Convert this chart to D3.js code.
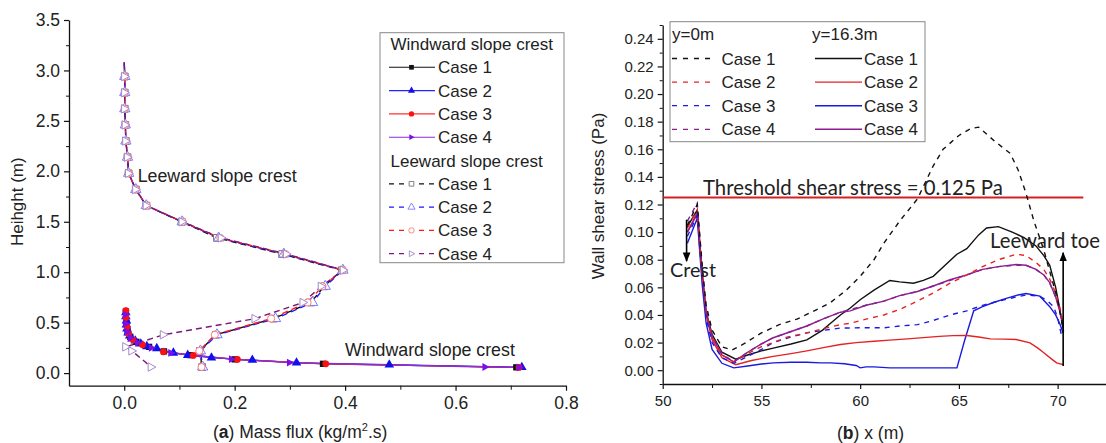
<!DOCTYPE html>
<html><head><meta charset="utf-8">
<script src="https://cdn.jsdelivr.net/npm/d3@7/dist/d3.min.js"></script>
<style>
body{margin:0;background:#fff}
svg{display:block}
text{font-family:"Liberation Sans",Arial,sans-serif;fill:#222}
</style>
</head><body>
<svg id="c" width="1106" height="443"></svg>
<script>
// ---------------- DATA : panel (a) ----------------
const leeHeights = [3.08,2.94,2.78,2.62,2.46,2.30,2.14,1.98,1.82,1.66,1.50,1.34,1.18,1.02,0.86,0.70,0.54,0.38,0.22,0.06];
const leeCase1 = [0.000,0.001,0.001,0.001,0.002,0.003,0.006,0.008,0.021,0.040,0.104,0.168,0.286,0.394,0.362,0.338,0.270,0.166,0.137,0.141];
const leeCase2 = [0.000,0.001,0.001,0.001,0.002,0.003,0.006,0.008,0.021,0.040,0.105,0.171,0.289,0.396,0.364,0.341,0.274,0.168,0.138,0.142];
const leeCase3 = [0.000,0.001,0.001,0.001,0.002,0.003,0.006,0.008,0.021,0.041,0.106,0.174,0.292,0.396,0.359,0.332,0.266,0.164,0.136,0.140];
const leeHeights4 = [3.08,2.94,2.78,2.62,2.46,2.30,2.14,1.98,1.82,1.66,1.50,1.34,1.18,1.02,0.86,0.70,0.54,0.38,0.26,0.22,0.06];
const leeCase4 = [0.000,0.001,0.001,0.001,0.002,0.003,0.006,0.008,0.021,0.040,0.105,0.176,0.294,0.397,0.357,0.324,0.237,0.071,0.003,0.014,0.049];

// windward slope crest : [mass flux, height]
const windCase1 = [[0.003,0.61],[0.004,0.50],[0.006,0.42],[0.011,0.36],[0.022,0.31],[0.045,0.26],[0.072,0.215],[0.120,0.178],[0.200,0.136],[0.360,0.092],[0.710,0.057]];
const windCase2 = [[0.003,0.60],[0.003,0.56],[0.004,0.52],[0.004,0.48],[0.005,0.44],[0.007,0.40],[0.010,0.37],[0.014,0.34],[0.020,0.32],[0.030,0.29],[0.041,0.265],[0.059,0.245],[0.089,0.20],[0.115,0.178],[0.158,0.152],[0.232,0.129],[0.312,0.102],[0.480,0.083],[0.720,0.057]];
const windCase3 = [[0.003,0.62],[0.003,0.55],[0.005,0.46],[0.008,0.39],[0.016,0.33],[0.033,0.28],[0.071,0.211],[0.125,0.175],[0.205,0.135],[0.365,0.092],[0.715,0.056]];
const windCase4 = [[0.003,0.58],[0.004,0.49],[0.006,0.41],[0.012,0.35],[0.025,0.30],[0.050,0.25],[0.085,0.20],[0.195,0.138],[0.300,0.104],[0.654,0.060],[0.716,0.056]];

const aYTicks = [0.0,0.5,1.0,1.5,2.0,2.5,3.0,3.5];
const aXTicks = [0.0,0.2,0.4,0.6,0.8];

// ---------------- DATA : panel (b) ----------------
const y0Case1 = [[51.25,0.105],[51.75,0.120],[52.0,0.076],[52.2,0.047],[52.5,0.029],[53.0,0.017],[53.5,0.0145],[54.1,0.019],[55.0,0.027],[55.9,0.033],[56.8,0.037],[57.6,0.0425],[58.5,0.049],[59.3,0.058],[60.0,0.068],[60.7,0.080],[61.2,0.092],[62.0,0.108],[62.9,0.124],[63.7,0.148],[64.2,0.160],[65.0,0.170],[65.6,0.175],[66.0,0.176],[66.8,0.166],[67.6,0.157],[68.0,0.145],[68.4,0.128],[68.8,0.108],[69.3,0.087],[70.0,0.051],[70.3,0.028]];
const y0Case2 = [[51.25,0.103],[51.75,0.116],[52.0,0.070],[52.2,0.042],[52.5,0.024],[53.0,0.011],[53.6,0.006],[54.3,0.012],[55.0,0.017],[55.6,0.020],[56.3,0.024],[57.3,0.027],[58.1,0.030],[59.0,0.033],[59.5,0.034],[60.3,0.037],[61.2,0.040],[62.0,0.044],[62.9,0.050],[63.7,0.056],[64.55,0.063],[65.4,0.069],[66.2,0.075],[67.0,0.080],[67.9,0.084],[68.4,0.083],[68.9,0.078],[69.3,0.073],[69.6,0.066],[69.9,0.056],[70.1,0.046],[70.28,0.034]];
const y0Case3 = [[51.25,0.097],[51.75,0.112],[52.0,0.066],[52.2,0.038],[52.5,0.020],[53.0,0.009],[53.6,0.005],[54.3,0.010],[55.0,0.015],[55.6,0.020],[56.5,0.024],[57.3,0.027],[58.2,0.029],[59.0,0.0305],[60.0,0.0307],[61.2,0.0307],[62.0,0.032],[62.9,0.033],[63.7,0.036],[64.55,0.040],[65.4,0.043],[66.2,0.047],[67.0,0.050],[67.9,0.053],[68.4,0.0545],[69.1,0.0535],[69.5,0.050],[69.8,0.046],[70.0,0.038],[70.2,0.025]];
const y0Case4 = [[51.25,0.108],[51.75,0.121],[52.0,0.073],[52.2,0.044],[52.5,0.025],[53.0,0.012],[53.6,0.006],[54.3,0.013],[55.0,0.019],[55.6,0.0235],[56.5,0.028],[57.3,0.032],[58.1,0.037],[59.0,0.042],[59.5,0.044],[60.3,0.047],[61.2,0.050],[62.0,0.054],[62.9,0.057],[63.7,0.061],[64.55,0.065],[65.4,0.069],[66.2,0.073],[67.0,0.075],[67.9,0.076],[68.4,0.076],[68.9,0.073],[69.3,0.069],[69.6,0.063],[69.9,0.053],[70.1,0.044],[70.28,0.032]];

const y16Case1 = [[51.25,0.104],[51.75,0.116],[52.0,0.070],[52.2,0.042],[52.5,0.026],[53.0,0.013],[53.7,0.008],[54.3,0.011],[55.0,0.014],[55.6,0.016],[56.5,0.019],[57.3,0.022],[58.1,0.029],[58.5,0.034],[59.0,0.040],[59.5,0.045],[60.0,0.051],[60.7,0.058],[61.5,0.065],[62.0,0.064],[62.7,0.063],[63.2,0.065],[63.7,0.068],[64.3,0.076],[64.9,0.084],[65.4,0.088],[66.0,0.098],[66.4,0.103],[67.0,0.104],[67.7,0.100],[68.3,0.096],[68.9,0.090],[69.3,0.083],[69.6,0.076],[69.9,0.060],[70.1,0.045],[70.28,0.030]];
const y16Case2 = [[51.25,0.100],[51.75,0.113],[52.0,0.068],[52.2,0.040],[52.5,0.022],[53.0,0.009],[53.7,0.004],[54.5,0.007],[55.6,0.010],[56.5,0.012],[57.3,0.014],[58.2,0.0165],[59.0,0.0186],[59.8,0.020],[60.7,0.021],[61.5,0.0218],[62.4,0.0227],[63.2,0.0236],[64.0,0.0245],[64.7,0.0250],[65.4,0.0251],[66.0,0.0240],[66.6,0.0227],[67.3,0.0225],[67.9,0.0222],[68.6,0.0198],[69.0,0.016],[69.3,0.0126],[69.7,0.008],[69.95,0.0053],[70.28,0.004]];
const y16Case3 = [[51.25,0.092],[51.75,0.110],[52.0,0.062],[52.2,0.034],[52.5,0.015],[53.0,0.005],[53.6,0.0017],[54.3,0.003],[55.0,0.0045],[55.6,0.0053],[56.5,0.0058],[57.3,0.0058],[58.0,0.0053],[58.5,0.0053],[59.2,0.0047],[59.8,0.0034],[60.0,0.0017],[60.3,0.0024],[60.7,0.0024],[61.5,0.0017],[62.4,0.0017],[63.5,0.0017],[64.9,0.0017],[65.3,0.022],[65.75,0.043],[66.2,0.046],[66.75,0.049],[67.4,0.052],[68.0,0.0545],[68.4,0.0555],[69.1,0.0536],[69.6,0.046],[69.9,0.040],[70.1,0.034],[70.28,0.027]];
const y16Case4 = [[51.25,0.100],[51.75,0.114],[52.0,0.070],[52.2,0.042],[52.5,0.024],[53.0,0.011],[53.6,0.006],[54.3,0.013],[55.0,0.019],[55.6,0.0235],[56.5,0.028],[57.3,0.032],[58.1,0.037],[59.0,0.042],[59.5,0.043],[60.3,0.047],[61.2,0.050],[62.0,0.054],[62.9,0.057],[63.7,0.061],[64.55,0.0655],[65.4,0.069],[66.2,0.073],[67.0,0.075],[67.9,0.0765],[68.4,0.076],[68.9,0.073],[69.3,0.069],[69.6,0.0634],[69.9,0.053],[70.1,0.043],[70.28,0.032]];

const thresholdStress = 0.125;
const thresholdRange = [50, 71.3];
const crestArrow = {x:51.21, from:0.109, to:0.079};
const toeArrow = {x:70.28, from:0.003, to:0.085};
const bYTicks = [0.00,0.02,0.04,0.06,0.08,0.10,0.12,0.14,0.16,0.18,0.20,0.22,0.24];
const bXTicks = [50,55,60,65,70];

// ---------------- DRAW ----------------
const svg = d3.select("#c");
const CAL = 'Lato, "Open Sans", sans-serif';

function fitText(sel, w){
  const n = sel.node();
  const fs = parseFloat(sel.attr("font-size"));
  const len = n.getComputedTextLength();
  sel.attr("font-size", (fs*w/len).toFixed(2));
}

// ===== Panel (a) =====
const ax = d3.scaleLinear().domain([-0.1,0.8]).range([69,566]);
const ay = d3.scaleLinear().domain([-0.125,3.5]).range([385.7,20]);

function styleAxis(g, fs){
  g.selectAll("path.domain").attr("stroke","#111").attr("stroke-width",1.3);
  g.selectAll(".tick line").attr("stroke","#111").attr("stroke-width",1.2);
  g.selectAll(".tick text").attr("font-size",fs).attr("fill","#222")
   .attr("font-family",'"Liberation Sans",Arial,sans-serif');
}

const aYg = svg.append("g").attr("transform","translate(69,0)")
  .call(d3.axisLeft(ay).tickValues(aYTicks).tickFormat(d3.format(".1f")).tickSize(5).tickSizeOuter(0).tickPadding(4));
styleAxis(aYg,17.5);
svg.append("g").attr("transform","translate(69,0)")
  .call(d3.axisLeft(ay).tickValues(aYTicks.slice(0,-1).map(d=>d+0.25)).tickFormat("").tickSize(3))
  .call(g=>{g.select(".domain").remove(); g.selectAll("line").attr("stroke","#111");});
const aXg = svg.append("g").attr("transform","translate(0,385.7)")
  .call(d3.axisBottom(ax).tickValues(aXTicks).tickFormat(d3.format(".1f")).tickSize(5).tickSizeOuter(0).tickPadding(6));
styleAxis(aXg,17.5);
svg.append("g").attr("transform","translate(0,385.7)")
  .call(d3.axisBottom(ax).tickValues(aXTicks.slice(0,-1).map(d=>d+0.1)).tickFormat("").tickSize(4))
  .call(g=>{g.select(".domain").remove(); g.selectAll("line").attr("stroke","#111");});

svg.append("text").attr("transform","translate(23,201.7) rotate(-90)")
  .attr("text-anchor","middle").attr("font-size",17).text("Heihght (m)");

const aTitle = svg.append("text").attr("x",213).attr("y",437.5).attr("font-size",17.5);
aTitle.append("tspan").text("(");
aTitle.append("tspan").attr("font-weight","bold").text("a");
aTitle.append("tspan").text(") Mass flux (kg/m");
aTitle.append("tspan").attr("dy",-7).attr("font-size",11).text("2");
aTitle.append("tspan").attr("dy",7).text(".s)");

const aLine = d3.line().x(d=>ax(d[0])).y(d=>ay(d[1]));
const symRight = {draw(ctx,size){const s=Math.sqrt(size)*0.62;ctx.moveTo(s*1.1,0);ctx.lineTo(-s*0.75,-s);ctx.lineTo(-s*0.75,s);ctx.closePath();}};
const syms = [d3.symbolSquare, d3.symbolTriangle, d3.symbolCircle, symRight];

const leeSeries = [
  {pts:leeHeights.map((h,i)=>[leeCase1[i],h]), col:"#111", mk:"#777", s:0, off:0},
  {pts:leeHeights.map((h,i)=>[leeCase2[i],h]), col:"#1a1aff", mk:"#7a7aff", s:1, off:2.5},
  {pts:leeHeights.map((h,i)=>[leeCase3[i],h]), col:"#ff1a1a", mk:"#ff7a7a", s:2, off:5},
  {pts:leeHeights4.map((h,i)=>[leeCase4[i],h]), col:"#7a1a7a", mk:"#a58acc", s:3, off:7.5}
];
const windSeries = [
  {pts:windCase1, col:"#111", mk:"#111", s:0},
  {pts:windCase2, col:"#2222ff", mk:"#1010ee", s:1},
  {pts:windCase3, col:"#ff3030", mk:"#ff1010", s:2},
  {pts:windCase4, col:"#8a2be2", mk:"#7a10e8", s:3}
];
const gA = svg.append("g");
leeSeries.forEach(se=>{
  gA.append("path").attr("d",aLine(se.pts)).attr("fill","none").attr("stroke",se.col)
    .attr("stroke-width",1.4).attr("stroke-dasharray","6,4").attr("stroke-dashoffset",se.off);
});
windSeries.forEach(se=>{
  gA.append("path").attr("d",aLine(se.pts)).attr("fill","none").attr("stroke",se.col)
    .attr("stroke-width",1.2);
});
leeSeries.forEach(se=>{
  gA.selectAll(null).data(se.pts.slice(1)).join("path")
    .attr("transform",d=>`translate(${ax(d[0])},${ay(d[1])})`)
    .attr("d",d3.symbol(syms[se.s], se.s===2?40:46)).attr("fill","#fff").attr("stroke",se.mk).attr("stroke-width",1);
});
windSeries.forEach(se=>{
  gA.selectAll(null).data(se.pts).join("path")
    .attr("transform",d=>`translate(${ax(d[0])},${ay(d[1])})`)
    .attr("d",d3.symbol(syms[se.s], se.s===2?36:40)).attr("fill",se.mk).attr("stroke","none");
});

const ann1 = svg.append("text").attr("x",137.7).attr("y",182.3).attr("font-size",17).text("Leeward slope crest");
fitText(ann1,159);
const ann2 = svg.append("text").attr("x",345).attr("y",356).attr("font-size",17).text("Windward slope crest");
fitText(ann2,170);

// legend (a)
const legA = svg.append("g");
legA.append("rect").attr("x",380).attr("y",32.7).attr("width",184).attr("height",230)
  .attr("fill","#fff").attr("stroke","#888").attr("stroke-width",1);
const rowY = i=>44+i*23.3;
legA.append("text").attr("x",390.5).attr("y",rowY(0)+6).attr("font-size",17).text("Windward slope crest");
legA.append("text").attr("x",390.5).attr("y",rowY(5)+6).attr("font-size",17).text("Leeward slope crest");
windSeries.forEach((se,i)=>{
  const y=rowY(i+1);
  legA.append("line").attr("x1",389).attr("x2",435).attr("y1",y).attr("y2",y).attr("stroke",se.col).attr("stroke-width",1.1);
  legA.append("path").attr("transform",`translate(411.5,${y})`).attr("d",d3.symbol(syms[se.s],22)).attr("fill",se.mk);
  legA.append("text").attr("x",438).attr("y",y+6).attr("font-size",17).text("Case "+(i+1));
});
leeSeries.forEach((se,i)=>{
  const y=rowY(i+6);
  legA.append("line").attr("x1",389).attr("x2",435).attr("y1",y).attr("y2",y).attr("stroke",se.col).attr("stroke-width",1.3).attr("stroke-dasharray","5,5");
  legA.append("path").attr("transform",`translate(411.5,${y})`).attr("d",d3.symbol(syms[se.s],22)).attr("fill","#fff").attr("stroke",se.mk).attr("stroke-width",0.9);
  legA.append("text").attr("x",438).attr("y",y+6).attr("font-size",17).text("Case "+(i+1));
});

// ===== Panel (b) =====
const bx = d3.scaleLinear().domain([50,72.5]).range([662.7,1107]);
const by = d3.scaleLinear().domain([-0.01,0.25]).range([384,25]);

const bYg = svg.append("g").attr("transform","translate(662.7,0)")
  .call(d3.axisLeft(by).tickValues(bYTicks).tickFormat(d3.format(".2f")).tickSize(5).tickSizeOuter(0).tickPadding(4));
styleAxis(bYg,15);
svg.append("g").attr("transform","translate(662.7,0)")
  .call(d3.axisLeft(by).tickValues(d3.range(-0.01,0.251,0.02)).tickFormat("").tickSize(3))
  .call(g=>{g.select(".domain").remove(); g.selectAll("line").attr("stroke","#111");});
const bXg = svg.append("g").attr("transform","translate(0,384)")
  .call(d3.axisBottom(bx).tickValues(bXTicks).tickFormat(d3.format("d")).tickSize(5).tickSizeOuter(0).tickPadding(6));
styleAxis(bXg,15);
svg.append("g").attr("transform","translate(0,384)")
  .call(d3.axisBottom(bx).tickValues([52.5,57.5,62.5,67.5]).tickFormat("").tickSize(4))
  .call(g=>{g.select(".domain").remove(); g.selectAll("line").attr("stroke","#111");});

svg.append("text").attr("transform","translate(604,196) rotate(-90)")
  .attr("text-anchor","middle").attr("font-size",17).text("Wall shear stress (Pa)");

const bTitle = svg.append("text").attr("x",837).attr("y",439).attr("font-size",17.5);
bTitle.append("tspan").text("(");
bTitle.append("tspan").attr("font-weight","bold").text("b");
bTitle.append("tspan").text(") x (m)");

const bLine = d3.line().x(d=>bx(d[0])).y(d=>by(d[1]));
const bCols = ["#111","#e42222","#1a1ae0","#8b1f8f"];
const y0 = [y0Case1,y0Case2,y0Case3,y0Case4];
const y16 = [y16Case1,y16Case2,y16Case3,y16Case4];
const gB = svg.append("g");

// threshold
gB.append("line").attr("x1",bx(thresholdRange[0])).attr("x2",bx(thresholdRange[1]))
  .attr("y1",by(thresholdStress)).attr("y2",by(thresholdStress)).attr("stroke","#d81e1e").attr("stroke-width",2);
const thr = svg.append("text").attr("x",703).attr("y",194.5).attr("font-size",21)
  .style("font-family",CAL).text("Threshold shear stress = 0.125 Pa");
fitText(thr,300);

[2,1,0,3].forEach(i=>{
  gB.append("path").attr("d",bLine(y16[i])).attr("fill","none").attr("stroke",bCols[i]).attr("stroke-width",1.4);
});
[2,1,3,0].forEach(i=>{
  gB.append("path").attr("d",bLine(y0[i])).attr("fill","none").attr("stroke",bCols[i]).attr("stroke-width",1.4).attr("stroke-dasharray","5,5");
});

// arrows
svg.append("defs").append("marker").attr("id","ah").attr("viewBox","0 0 10 10").attr("refX",9).attr("refY",5)
  .attr("markerWidth",6).attr("markerHeight",6).attr("orient","auto-start-reverse")
  .append("path").attr("d","M0,1 L10,5 L0,9 z").attr("fill","#000");
gB.append("line").attr("x1",bx(crestArrow.x)).attr("x2",bx(crestArrow.x)).attr("y1",by(crestArrow.from)).attr("y2",by(crestArrow.to))
  .attr("stroke","#000").attr("stroke-width",1.6).attr("marker-end","url(#ah)");
gB.append("line").attr("x1",bx(toeArrow.x)).attr("x2",bx(toeArrow.x)).attr("y1",by(toeArrow.from)).attr("y2",by(toeArrow.to))
  .attr("stroke","#000").attr("stroke-width",1.6).attr("marker-end","url(#ah)");
const cr = svg.append("text").attr("x",670).attr("y",277).attr("font-size",19).style("font-family",CAL).text("Crest");
fitText(cr,46);
const lt = svg.append("text").attr("x",990).attr("y",247.5).attr("font-size",19).style("font-family",CAL).text("Leeward toe");
fitText(lt,110);

// legend (b)
const legB = svg.append("g");
legB.append("rect").attr("x",670).attr("y",21.7).attr("width",255).attr("height",120)
  .attr("fill","#fff").attr("stroke","#888").attr("stroke-width",1);
legB.append("text").attr("x",672).attr("y",39.5).attr("font-size",17).text("y=0m");
legB.append("text").attr("x",812).attr("y",39.5).attr("font-size",17).text("y=16.3m");
bCols.forEach((c,i)=>{
  const y=58.5+i*23.6;
  legB.append("line").attr("x1",672).attr("x2",716).attr("y1",y).attr("y2",y).attr("stroke",c).attr("stroke-width",1.3).attr("stroke-dasharray","5,6");
  legB.append("text").attr("x",721.5).attr("y",y+6).attr("font-size",17).text("Case "+(i+1));
  legB.append("line").attr("x1",815).attr("x2",862).attr("y1",y).attr("y2",y).attr("stroke",c).attr("stroke-width",1.4);
  legB.append("text").attr("x",864).attr("y",y+6).attr("font-size",17).text("Case "+(i+1));
});
</script>
</body></html>
